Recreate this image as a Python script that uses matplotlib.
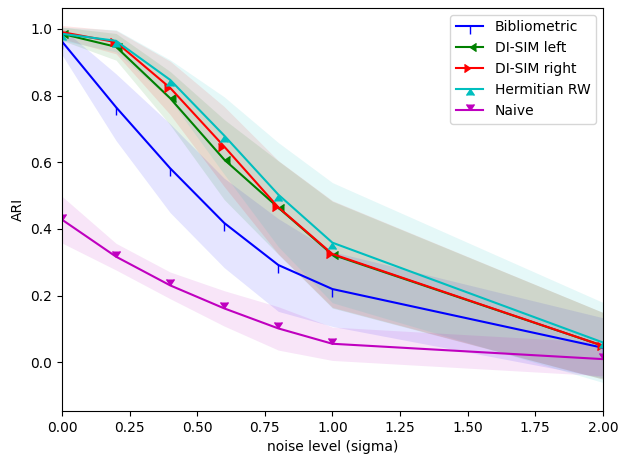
import numpy as np
import matplotlib.pyplot as plt

# noise levels
sigma = [0.0, 0.2, 0.4, 0.6, 0.8, 1.0, 2.0]

# mean ARI per method
biblio = [0.962, 0.765, 0.582, 0.418, 0.292, 0.220, 0.044]
disim_left = [0.985, 0.946, 0.792, 0.608, 0.464, 0.323, 0.050]
disim_right = [0.990, 0.960, 0.823, 0.647, 0.465, 0.325, 0.050]
herm_rw = [0.985, 0.964, 0.847, 0.680, 0.503, 0.359, 0.060]
naive = [0.428, 0.317, 0.231, 0.162, 0.102, 0.056, 0.010]

# standard deviations (band half widths)
biblio_sd = [0.04, 0.10, 0.133, 0.134, 0.139, 0.112, 0.09]
disim_left_sd = [0.02, 0.04, 0.08, 0.12, 0.14, 0.16, 0.10]
disim_right_sd = [0.02, 0.035, 0.08, 0.12, 0.14, 0.16, 0.10]
herm_rw_sd = [0.02, 0.033, 0.06, 0.116, 0.156, 0.18, 0.12]
naive_sd = [0.07, 0.04, 0.04, 0.053, 0.065, 0.05, 0.05]

# markers: tickdown and carets (tip sits on the data point)
series = [
    ("Bibliometric", biblio, biblio_sd, "b", 3),
    ("DI-SIM left", disim_left, disim_left_sd, "g", 4),
    ("DI-SIM right", disim_right, disim_right_sd, "r", 5),
    ("Hermitian RW", herm_rw, herm_rw_sd, "c", 6),
    ("Naive", naive, naive_sd, "m", 7),
]

fig, ax = plt.subplots(figsize=(6.26, 4.58), dpi=100)
x = np.array(sigma)
for name, m, s, col, mk in series:
    m = np.array(m)
    s = np.array(s)
    ax.plot(x, m, color=col, marker=mk, linewidth=1.5, label=name)
    ax.fill_between(x, m - s, m + s, color=col, alpha=0.1, linewidth=0)

ax.set_xlim(0, 2.0)
ax.set_ylim(-0.145, 1.063)
ax.set_xlabel("noise level (sigma)")
ax.set_ylabel("ARI")
ax.legend(loc="upper right")
fig.subplots_adjust(left=0.099, right=0.963, top=0.983, bottom=0.103)
fig.savefig("out.png", dpi=100)
